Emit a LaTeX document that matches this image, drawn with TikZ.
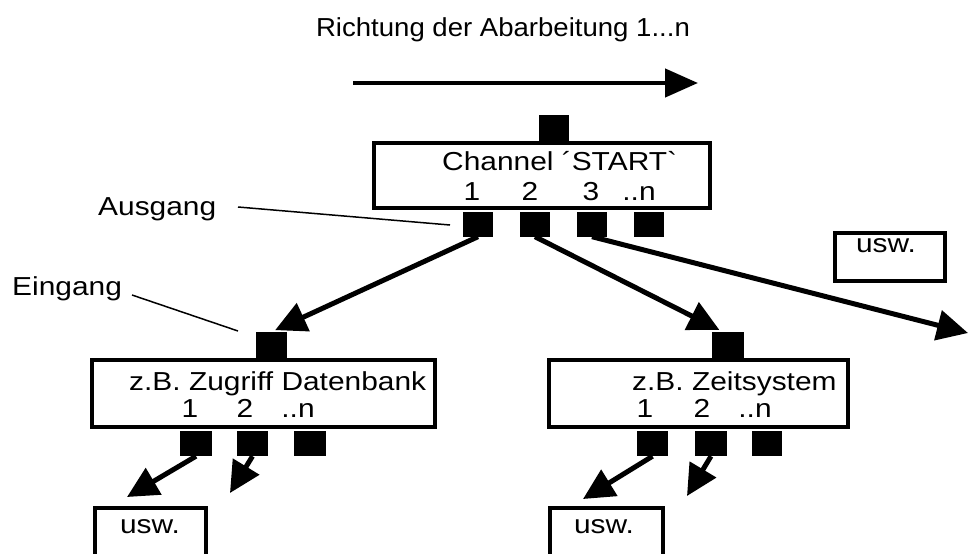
\documentclass[tikz,border=0pt]{standalone}
\usepackage{fontspec}
\setmainfont{Liberation Sans}[FakeStretch=1.15]
\newfontfamily\headfont{Liberation Sans}[FakeStretch=1.06]
\usetikzlibrary{arrows.meta}
\begin{document}
\begin{tikzpicture}[x=1pt,y=-1pt,
  font=\fontsize{26}{30}\selectfont,
  box/.style={draw,line width=4.5pt,inner sep=0pt,rectangle},
  port/.style={fill=black,inner sep=0pt,minimum width=30pt,minimum height=25pt},
  txt/.style={inner sep=0pt,anchor=base},
  flow/.style={line width=5pt,-{Triangle[length=31pt,width=30pt]}},
  leader/.style={line width=1.5pt}]
\useasboundingbox (0,0) rectangle (969,554);

% processing direction
\node[txt,font=\headfont\fontsize{26}{30}\selectfont] (title) at (503,36) {Richtung der Abarbeitung 1...n};
\coordinate (dirA) at (353,83);
\coordinate (dirB) at (698,83);
\draw[line width=4.5pt,-{Triangle[length=33pt,width=28pt]}] (dirA) -- (dirB);

% channel START
\node[box,minimum width=336pt,minimum height=65pt] (start) at (542,175.5) {};
\node[port,minimum height=26pt] (sin) at (554,128) {};
\node[txt,anchor=base west] (stitle) at (442,170) {Channel ´START\textasciigrave};
\node[txt] (s1) at (472,200) {1};
\node[txt] (s2) at (530,200) {2};
\node[txt] (s3) at (591,200) {3};
\node[txt] (sn) at (639,200) {..n};
\node[port] (so1) at (478,224) {};
\node[port] (so2) at (535,224) {};
\node[port] (so3) at (592,224) {};
\node[port] (so4) at (649,224) {};

% left channel
\node[box,minimum width=343pt,minimum height=67pt] (left) at (263.5,393.5) {};
\node[port,minimum width=31pt,minimum height=26pt] (lin) at (271.5,345) {};
\node[txt,anchor=base west] (ltitle) at (129,390) {z.B. Zugriff Datenbank};
\node[txt] (l1) at (190,417) {1};
\node[txt] (l2) at (245,417) {2};
\node[txt] (ln) at (298,417) {..n};
\node[port,minimum width=32pt] (lo1) at (196,443.5) {};
\node[port,minimum width=31pt] (lo2) at (252.5,443.5) {};
\node[port,minimum width=32pt] (lo3) at (310,443.5) {};

% right channel
\node[box,minimum width=299pt,minimum height=67pt] (right) at (698.5,393.5) {};
\node[port,minimum width=32pt,minimum height=26pt] (rin) at (728,345) {};
\node[txt,anchor=base west] (rtitle) at (632,390) {z.B. Zeitsystem};
\node[txt] (r1) at (645,417) {1};
\node[txt] (r2) at (702,417) {2};
\node[txt] (rn) at (755,417) {..n};
\node[port,minimum width=31pt] (ro1) at (652.5,443.5) {};
\node[port,minimum width=32pt] (ro2) at (711,443.5) {};
\node[port,minimum width=30pt] (ro3) at (767,443.5) {};

% continuation boxes
\node[box,minimum width=110pt,minimum height=48pt] (usw1) at (890,257) {};
\node[txt] (usw1t) at (886,252) {usw.};
\node[box,minimum width=111pt,minimum height=64pt] (usw2) at (150.5,540) {};
\node[txt] (usw2t) at (150,533) {usw.};
\node[box,minimum width=113pt,minimum height=64pt] (usw3) at (606.5,540) {};
\node[txt] (usw3t) at (604,533) {usw.};

% labels with leader lines
\node[txt,anchor=base west] (ausgang) at (98,215) {Ausgang};
\node[txt,anchor=base west] (eingang) at (12,295) {Eingang};
\coordinate (ausA) at (238,207);
\coordinate (ausB) at (450,225);
\coordinate (einA) at (132,295);
\coordinate (einB) at (238,331);
\draw[leader] (ausA) -- (ausB);
\draw[leader] (einA) -- (einB);

% connections
\coordinate (farTip) at (968,333);
\coordinate (lt1) at (127,497);
\coordinate (lt2) at (230,493);
\coordinate (rt1) at (583,499);
\coordinate (rt2) at (687,496);
\draw[flow,shorten >=4pt] (so1.south) -- (lin.north);
\draw[flow,shorten >=4pt] (so2.south) -- ([xshift=-5pt]rin.north);
\draw[flow] (so3.south) -- (farTip);
\draw[flow] (lo1.south) -- (lt1);
\draw[flow] (lo2.south) -- (lt2);
\draw[flow] (ro1.south) -- (rt1);
\draw[flow] (ro2.south) -- (rt2);
\end{tikzpicture}
\end{document}
